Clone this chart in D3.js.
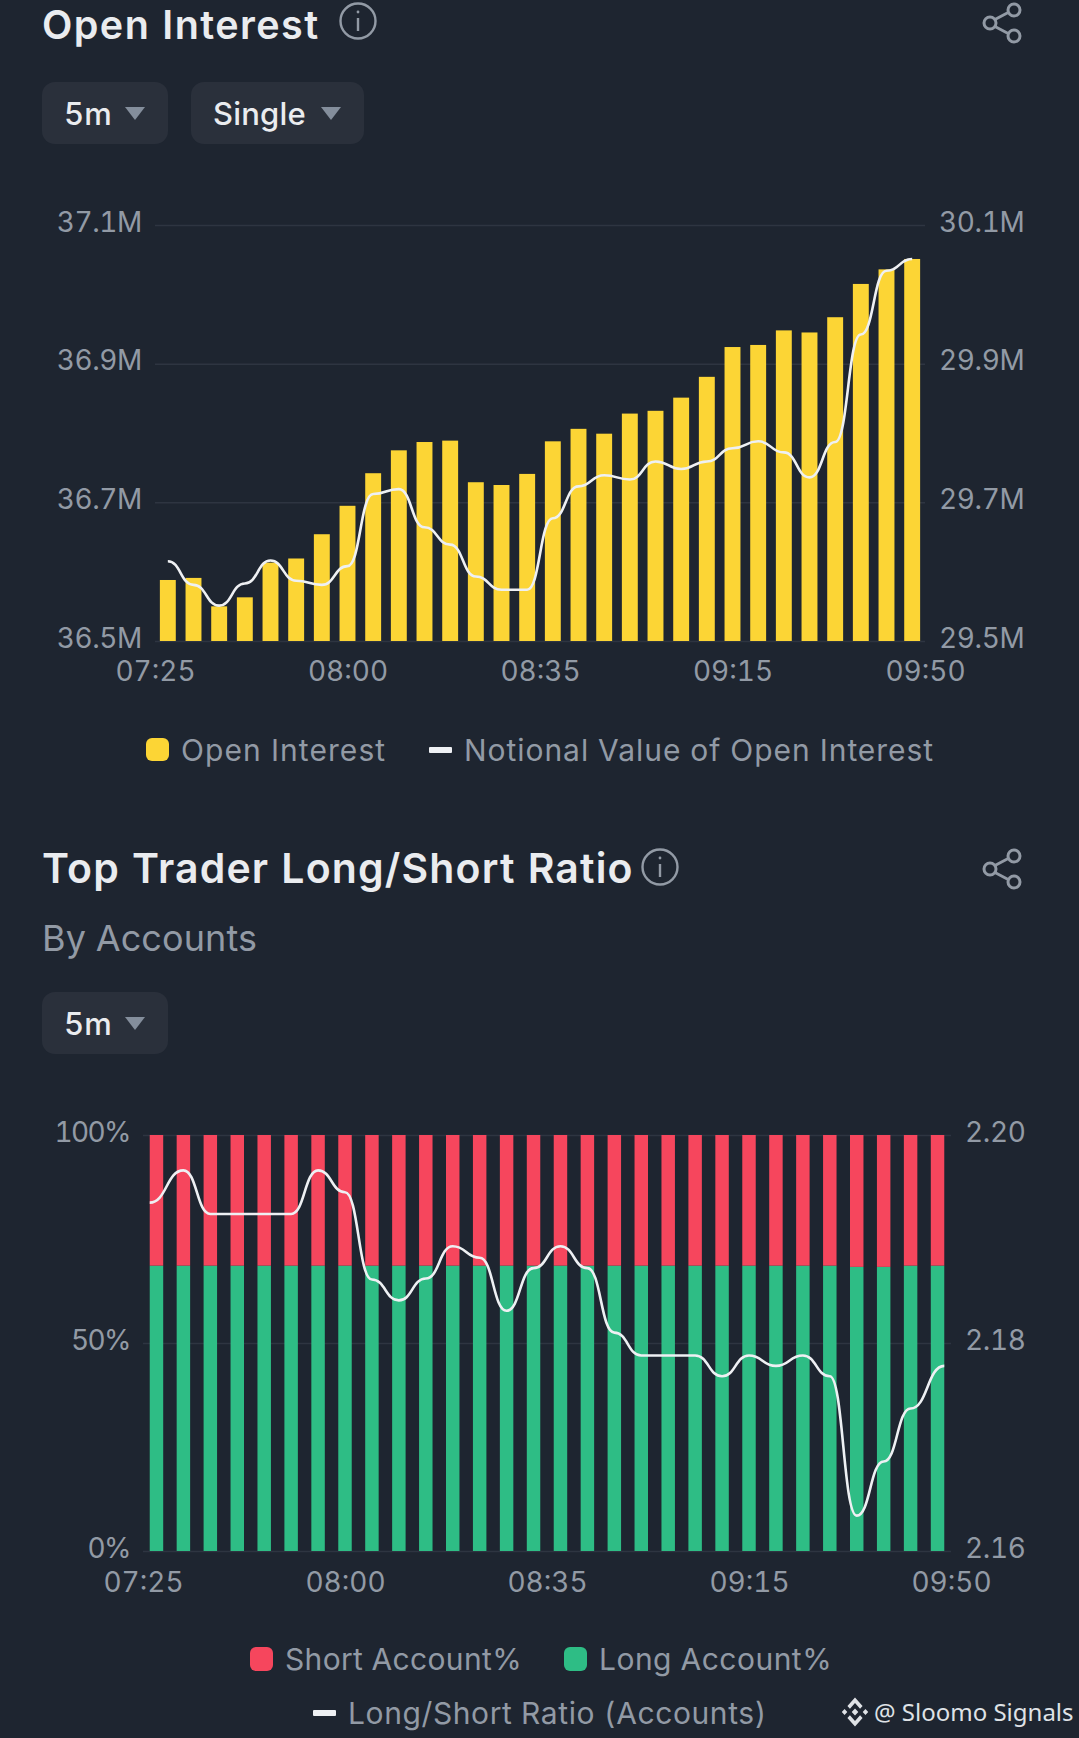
<!DOCTYPE html>
<html>
<head>
<meta charset="utf-8">
<script src="https://d3js.org/d3.v7.min.js"></script>
<style>
html, body { margin: 0; padding: 0; background: #1e2530; }
svg { display: block; }
text { font-family: Inter, "Noto Sans", sans-serif; font-feature-settings: "tnum"; }
</style>
</head>
<body>
<div id="chart-area"></div>
<script>
// Data
var slots = d3.range(30).map(function(i) { return "t" + i; });
var timeLabels = ["07:25", "08:00", "08:35", "09:15", "09:50"];

var openInterest = [36.588, 36.591, 36.550, 36.563, 36.613, 36.619, 36.654, 36.695, 36.742, 36.775,
    36.787, 36.789, 36.729, 36.725, 36.741, 36.788, 36.806, 36.799, 36.828, 36.832,
    36.851, 36.881, 36.924, 36.927, 36.948, 36.945, 36.967, 37.015, 37.036, 37.051];
var notionalValue = [29.615, 29.581, 29.551, 29.583, 29.616, 29.587, 29.581, 29.608, 29.712, 29.719,
    29.664, 29.639, 29.593, 29.574, 29.574, 29.677, 29.723, 29.739, 29.733, 29.759,
    29.748, 29.759, 29.778, 29.788, 29.772, 29.736, 29.787, 29.942, 30.034, 30.051];
var oiTicks = [36.5, 36.7, 36.9, 37.1];
var notionalTicks = [29.5, 29.7, 29.9, 30.1];

var longAccount = [68.6, 68.6, 68.6, 68.6, 68.6, 68.6, 68.6, 68.6, 68.6, 68.6,
    68.6, 68.6, 68.6, 68.6, 68.6, 68.6, 68.6, 68.6, 68.6, 68.6,
    68.6, 68.6, 68.6, 68.6, 68.6, 68.6, 68.3, 68.3, 68.6, 68.6];
var shortAccount = longAccount.map(function(d) { return 100 - d; });
var ratio = [2.1935, 2.1966, 2.1924, 2.1924, 2.1924, 2.1924, 2.1966, 2.1945, 2.1861, 2.1841,
    2.1862, 2.1893, 2.1882, 2.1831, 2.1872, 2.1893, 2.1872, 2.1810, 2.1788, 2.1788,
    2.1788, 2.1768, 2.1788, 2.1778, 2.1788, 2.1768, 2.1634, 2.1686, 2.1737, 2.1778];
var pctTicks = [0, 50, 100];
var ratioTicks = [2.16, 2.18, 2.20];

var colors = { yellow: "#fcd535", red: "#f6465d", green: "#2ebd85", line: "#eef0f3",
    title: "#eaecef", muted: "#929aa5", grid: "#2e3541", button: "#2a303b", caret: "#848e9c" };

var svg = d3.select("#chart-area")
    .append("svg")
    .attr("width", 1079)
    .attr("height", 1738);

// Header bits
function label(x, y, str, size, fill, weight, spacing) {
    return svg.append("text")
        .attr("x", x)
        .attr("y", y)
        .attr("dy", "0.36em")
        .attr("font-size", size)
        .attr("font-weight", weight || 400)
        .attr("letter-spacing", spacing || 0)
        .attr("fill", fill)
        .text(str);
}

function infoIcon(cx, cy) {
    var g = svg.append("g").attr("transform", "translate(" + cx + "," + cy + ")")
        .attr("fill", "none").attr("stroke", colors.muted).attr("stroke-width", 2.4);
    g.append("circle").attr("r", 17.5);
    g.append("line").attr("y1", -3).attr("y2", 10);
    g.append("circle").attr("cy", -9).attr("r", 1.4).attr("fill", colors.muted).attr("stroke", "none");
}

function shareIcon(cx, cy) {
    var g = svg.append("g").attr("transform", "translate(" + cx + "," + cy + ")")
        .attr("fill", "none").attr("stroke", colors.muted).attr("stroke-width", 3);
    g.append("path").attr("d", "M-8,-3L9,-12M-8,3L9,12");
    g.append("circle").attr("cx", -12).attr("r", 6).attr("fill", "#1e2530");
    g.append("circle").attr("cx", 12).attr("cy", -13).attr("r", 6).attr("fill", "#1e2530");
    g.append("circle").attr("cx", 12).attr("cy", 13).attr("r", 6).attr("fill", "#1e2530");
}

function dropdown(x, y, w, str) {
    svg.append("rect")
        .attr("x", x).attr("y", y)
        .attr("width", w).attr("height", 62)
        .attr("rx", 13)
        .attr("fill", colors.button);
    label(x + 22, y + 32, str, 31, "#eaecef", 500, 0.2);
    var cx = x + w - 33;
    svg.append("path")
        .attr("d", "M" + (cx - 10) + "," + (y + 25) + "L" + (cx + 10) + "," + (y + 25) + "L" + cx + "," + (y + 38) + "Z")
        .attr("fill", colors.caret);
}

// Shared axes for a chart panel
function drawAxes(opts) {
    var g = svg.append("g");

    var xLabels = d3.scalePoint().domain(timeLabels).range([opts.left, opts.right]);
    var xAxis = g.append("g")
        .attr("class", "x axis")
        .attr("transform", "translate(0," + opts.bottom + ")")
        .call(d3.axisBottom(xLabels).tickSize(0).tickPadding(opts.xPad))
        .call(function(s) { s.select(".domain").remove(); });

    var yLeftAxis = g.append("g")
        .attr("class", "y axis")
        .attr("transform", "translate(" + opts.left + ",0)")
        .call(d3.axisLeft(opts.yLeft).tickValues(opts.leftTicks).tickFormat(opts.leftFormat)
            .tickSize(opts.left - opts.right).tickPadding(opts.leftPad))
        .call(function(s) {
            s.select(".domain").remove();
            s.selectAll("line").attr("stroke", colors.grid).attr("stroke-width", 1.5);
            s.selectAll(".tick line").attr("x2", opts.right - opts.left).attr("x1", 0);
            s.selectAll("text").attr("x", -opts.leftPad).attr("dy", "0.22em");
        });

    var yRightAxis = g.append("g")
        .attr("class", "y axis")
        .attr("transform", "translate(" + opts.right + ",0)")
        .call(d3.axisRight(opts.yRight).tickValues(opts.rightTicks).tickFormat(opts.rightFormat)
            .tickSize(0).tickPadding(opts.rightPad))
        .call(function(s) {
            s.select(".domain").remove();
            s.selectAll("text").attr("dy", "0.22em");
        });

    g.selectAll("text")
        .attr("font-family", "Inter, sans-serif")
        .attr("font-size", 28)
        .attr("fill", colors.muted);
    xAxis.selectAll("text").attr("letter-spacing", 0);
    yLeftAxis.selectAll("text").attr("letter-spacing", opts.leftSpacing);
    yRightAxis.selectAll("text").attr("letter-spacing", -0.4);
}

// Open Interest
label(42, 24.3, "Open Interest", 39.5, colors.title, 600, 1.43);
infoIcon(358, 21);
shareIcon(1002, 23);
dropdown(42, 82, 126, "5m");
dropdown(191, 82, 173, "Single");

var oi = { left: 155, right: 925, top: 225, bottom: 641 };
var xOi = d3.scaleBand().domain(slots).range([oi.left, oi.right]).paddingInner(0.38).paddingOuter(0.19);
var yOi = d3.scaleLinear().domain([36.5, 37.1]).range([oi.bottom, oi.top]);
var yNotional = d3.scaleLinear().domain([29.5, 30.1]).range([oi.bottom, oi.top]);

drawAxes({
    left: oi.left, right: oi.right, bottom: oi.bottom, xPad: 20,
    yLeft: yOi, leftTicks: oiTicks, leftFormat: function(d) { return d.toFixed(1) + "M"; }, leftPad: 13, leftSpacing: -0.4,
    yRight: yNotional, rightTicks: notionalTicks, rightFormat: function(d) { return d.toFixed(1) + "M"; }, rightPad: 14
});

svg.append("g").selectAll("rect")
    .data(openInterest)
    .enter().append("rect")
    .attr("x", function(d, i) { return xOi(slots[i]); })
    .attr("y", function(d) { return yOi(d); })
    .attr("width", xOi.bandwidth())
    .attr("height", function(d) { return oi.bottom - yOi(d); })
    .attr("fill", colors.yellow);

var notionalLine = d3.line()
    .x(function(d, i) { return xOi(slots[i]) + xOi.bandwidth() / 2; })
    .y(function(d) { return yNotional(d); })
    .curve(d3.curveBumpX);

svg.append("path")
    .attr("d", notionalLine(notionalValue))
    .attr("fill", "none")
    .attr("stroke", colors.line)
    .attr("stroke-width", 2.6);

// legend
svg.append("rect").attr("x", 146).attr("y", 738).attr("width", 23).attr("height", 23).attr("rx", 6).attr("fill", colors.yellow);
label(181, 750, "Open Interest", 30, colors.muted, 400, 1.07);
svg.append("rect").attr("x", 429).attr("y", 747).attr("width", 23).attr("height", 6).attr("rx", 1).attr("fill", colors.line);
label(464, 750, "Notional Value of Open Interest", 30, colors.muted, 400, 0.95);

// Top Trader Long/Short Ratio
label(42, 868, "Top Trader Long/Short Ratio", 41, colors.title, 600, 1.15);
infoIcon(660, 867);
shareIcon(1002, 869);
label(42, 938, "By Accounts", 36, colors.muted, 400, 0.1);
dropdown(42, 992, 126, "5m");

var ls = { left: 143, right: 951, top: 1135, bottom: 1551 };
var xLs = d3.scaleBand().domain(slots).range([ls.left, ls.right]).paddingInner(0.5).paddingOuter(0.25);
var yPct = d3.scaleLinear().domain([0, 100]).range([ls.bottom, ls.top]);
var yRatio = d3.scaleLinear().domain([2.16, 2.20]).range([ls.bottom, ls.top]);

drawAxes({
    left: ls.left, right: ls.right, bottom: ls.bottom, xPad: 21,
    yLeft: yPct, leftTicks: pctTicks, leftFormat: function(d) { return d + "%"; }, leftPad: 13, leftSpacing: -1.6,
    yRight: yRatio, rightTicks: ratioTicks, rightFormat: function(d) { return d.toFixed(2); }, rightPad: 14
});

var stacked = d3.stack().keys(["long", "short"])(longAccount.map(function(d, i) {
    return { long: d, short: shortAccount[i] };
}));
var stackColors = [colors.green, colors.red];

svg.append("g").selectAll("g")
    .data(stacked)
    .enter().append("g")
    .attr("fill", function(d, k) { return stackColors[k]; })
    .selectAll("rect")
    .data(function(d) { return d; })
    .enter().append("rect")
    .attr("x", function(d, i) { return xLs(slots[i]); })
    .attr("y", function(d) { return yPct(d[1]); })
    .attr("width", xLs.bandwidth())
    .attr("height", function(d) { return yPct(d[0]) - yPct(d[1]); });

// this line runs out to the outer edges of the first and last bar
var ratioLine = d3.line()
    .x(function(d, i) {
        if (i === 0) return xLs(slots[i]);
        if (i === slots.length - 1) return xLs(slots[i]) + xLs.bandwidth();
        return xLs(slots[i]) + xLs.bandwidth() / 2;
    })
    .y(function(d) { return yRatio(d); })
    .curve(d3.curveBumpX);

svg.append("path")
    .attr("d", ratioLine(ratio))
    .attr("fill", "none")
    .attr("stroke", colors.line)
    .attr("stroke-width", 2.6);

// legend
svg.append("rect").attr("x", 250).attr("y", 1647).attr("width", 23).attr("height", 24).attr("rx", 6).attr("fill", colors.red);
label(285, 1659, "Short Account%", 30, colors.muted, 400, 0.33);
svg.append("rect").attr("x", 564).attr("y", 1647).attr("width", 23).attr("height", 24).attr("rx", 6).attr("fill", colors.green);
label(599, 1659, "Long Account%", 30, colors.muted, 400, 0.48);
svg.append("rect").attr("x", 313).attr("y", 1710).attr("width", 23).attr("height", 6).attr("rx", 1).attr("fill", colors.line);
label(348, 1713, "Long/Short Ratio (Accounts)", 30, colors.muted, 400, 0.6);

// watermark
svg.append("path")
    .attr("transform", "translate(855,1712) scale(1.1,1.2) translate(-16,-16)")
    .attr("fill", "#dfe2e6")
    .attr("d", "M16,4L22.9,10.9L20.6,13.2L16,8.6L11.4,13.2L9.1,10.9Z" +
        "M16,28L22.9,21.1L20.6,18.8L16,23.4L11.4,18.8L9.1,21.1Z" +
        "M16,13L19,16L16,19L13,16Z" +
        "M6.5,13.5L9,16L6.5,18.5L4,16Z" +
        "M25.5,13.5L28,16L25.5,18.5L23,16Z");
label(874, 1712, "@ Sloomo Signals", 24, "#dfe2e6").style("font-family", "'Noto Sans'");
</script>
</body>
</html>
